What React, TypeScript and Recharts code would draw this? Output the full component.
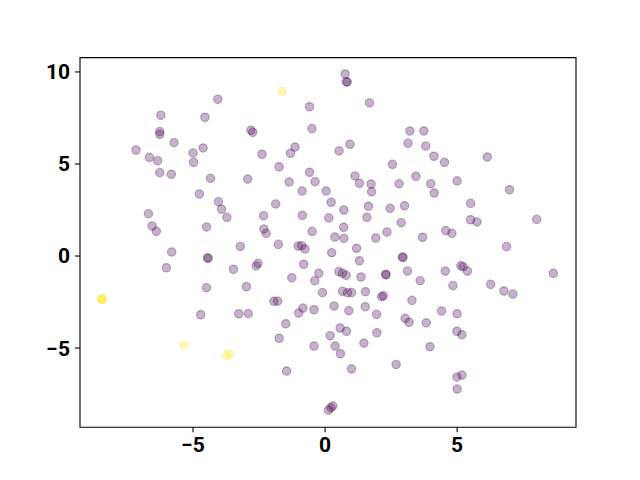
import { ReferenceArea, Scatter, ScatterChart, XAxis, YAxis } from "recharts"

// embedding points, [x, y]
const mainCluster: [number, number][] = [
  [-4.06, 8.52], [-6.22, 7.65], [-4.55, 7.54], [-6.26, 6.76], [-6.26, 6.61],
  [-2.81, 6.83], [-2.74, 6.72], [-5.72, 6.16], [-7.16, 5.76], [-6.65, 5.36],
  [-6.34, 5.18], [-5.0, 5.6], [-4.62, 5.87], [-4.98, 5.09], [-6.26, 4.53],
  [-5.82, 4.44], [-4.34, 4.22], [-2.93, 4.18], [-4.76, 3.37], [-4.04, 2.95],
  [-3.92, 2.54], [-3.72, 2.1], [-6.69, 2.3], [-6.55, 1.63], [-6.39, 1.34],
  [-4.49, 1.58], [-3.21, 0.52], [0.76, 9.89], [0.8, 9.47], [0.84, 9.45],
  [-0.59, 8.11], [1.68, 8.32], [-0.5, 6.92], [3.21, 6.79], [0.94, 6.07],
  [0.53, 5.71], [3.14, 6.13], [-1.14, 5.92], [-1.31, 5.58], [-2.39, 5.53],
  [-1.74, 4.85], [2.55, 4.98], [-0.59, 4.55], [1.13, 4.35], [1.3, 3.95],
  [1.74, 3.91], [1.76, 3.49], [2.8, 3.93], [3.44, 4.33], [-1.36, 4.02],
  [-0.38, 4.04], [-0.87, 3.53], [0.04, 3.53], [-1.87, 2.83], [0.23, 2.92],
  [0.71, 2.5], [1.64, 2.7], [2.46, 2.59], [3.01, 2.73], [-2.33, 2.19],
  [-0.86, 2.21], [0.14, 2.07], [1.58, 2.1], [2.88, 1.81], [0.7, 1.56],
  [-2.32, 1.47], [-2.23, 1.23], [-0.49, 1.34], [2.34, 1.3], [0.37, 1.03],
  [0.71, 0.96], [1.92, 0.98], [-1.77, 0.63], [-1.02, 0.54], [-0.89, 0.56],
  [-0.76, 0.38], [1.19, 0.42], [3.74, 6.79], [3.81, 5.98], [4.12, 5.42],
  [4.52, 5.09], [6.14, 5.38], [4.0, 3.93], [4.13, 3.42], [5.0, 4.08],
  [6.98, 3.6], [5.51, 2.86], [5.51, 1.97], [5.75, 1.85], [8.01, 1.99],
  [4.57, 1.38], [4.8, 1.23], [3.69, 1.02], [6.87, 0.51], [-5.81, 0.22],
  [-4.45, -0.09], [-4.43, -0.13], [-6.01, -0.64], [-3.47, -0.72], [-4.49, -1.72],
  [-2.98, -1.67], [-4.71, -3.19], [-3.27, -3.14], [-2.91, -3.13], [2.93, -0.05],
  [2.95, -0.08], [0.25, 0.18], [1.3, -0.26], [3.12, -0.82], [-2.54, -0.4],
  [-2.61, -0.54], [-0.81, -0.45], [-1.26, -1.18], [-0.24, -0.94], [-0.39, -1.34],
  [0.52, -0.85], [0.66, -0.94], [0.8, -1.05], [1.36, -1.14], [2.29, -0.99],
  [2.31, -1.03], [-0.1, -1.99], [0.66, -1.92], [0.85, -1.99], [1.0, -1.99],
  [1.53, -1.94], [2.14, -2.21], [2.21, -2.16], [3.29, -2.41], [-1.94, -2.46],
  [-1.8, -2.45], [-1.0, -3.1], [-0.84, -2.83], [-0.42, -2.92], [0.34, -2.72],
  [0.9, -2.97], [1.52, -2.76], [1.95, -3.17], [3.03, -3.39], [3.18, -3.6],
  [-1.49, -3.68], [0.57, -3.91], [0.81, -4.09], [1.96, -4.17], [-1.74, -4.47],
  [0.19, -4.33], [-0.42, -4.89], [0.38, -4.89], [1.47, -4.73], [0.58, -5.31],
  [-1.46, -6.25], [1.0, -6.13], [2.69, -5.89], [0.13, -8.37], [0.22, -8.24],
  [0.29, -8.14], [4.55, -0.82], [5.14, -0.53], [5.23, -0.58], [5.39, -0.82],
  [8.64, -0.94], [3.6, -1.34], [4.84, -1.61], [6.27, -1.54], [6.77, -1.9],
  [7.11, -2.07], [4.41, -2.99], [5.0, -3.14], [3.83, -3.63], [4.99, -4.09],
  [5.18, -4.28], [3.97, -4.93], [4.99, -6.58], [5.18, -6.47], [5.0, -7.23],
]

const outliers: [number, number][] = [
  [-8.45, -2.34], [-8.43, -2.36], [-8.46, -2.33],
  [-1.63, 8.93], [-5.34, -4.84], [-3.73, -5.4], [-3.61, -5.33],
]

const xTicks = [-5, 0, 5]
const yTicks = [-5, 0, 5, 10]
const xDomain: [number, number] = [-9.28, 9.5]
const yDomain: [number, number] = [-9.3, 10.78]

const toRows = (pts: [number, number][]) => pts.map(([x, y]) => ({ x, y }))

const fmt = (v: number) => String(v).replace("-", "\u2212")

const dot = (color: string) => (props: any) => (
  <circle
    cx={props.cx}
    cy={props.cy}
    r={4.2}
    fill={color}
    fillOpacity={0.3}
    stroke={color}
    strokeOpacity={0.3}
    strokeWidth={1.2}
  />
)

const tickStyle = { fill: "#000", fontSize: 21, fontWeight: 700, fontFamily: "Roboto" }

export default function App() {
  return (
    <div style={{ position: "absolute", left: 0, top: 0, background: "#fff" }}>
      <ScatterChart
        width={640}
        height={480}
        margin={{ top: 57.6, right: 64, bottom: 22.8, left: 40 }}
      >
        <XAxis
          type="number"
          dataKey="x"
          domain={xDomain}
          ticks={xTicks}
          allowDataOverflow
          axisLine={false}
          tickLine={{ stroke: "#000", strokeWidth: 1.1 }}
          tickSize={5}
          tickMargin={5}
          tickFormatter={fmt}
          tick={tickStyle}
          height={30}
        />
        <YAxis
          type="number"
          dataKey="y"
          domain={yDomain}
          ticks={yTicks}
          allowDataOverflow
          axisLine={false}
          tickLine={{ stroke: "#000", strokeWidth: 1.1 }}
          tickSize={5}
          tickMargin={5}
          tickFormatter={fmt}
          tick={tickStyle}
          width={40}
        />
        <ReferenceArea
          x1={xDomain[0]}
          x2={xDomain[1]}
          y1={yDomain[0]}
          y2={yDomain[1]}
          fill="none"
          stroke="#000"
          strokeWidth={1.1}
        />
        <Scatter data={toRows(mainCluster)} shape={dot("#440154")} isAnimationActive={false} />
        <Scatter data={toRows(outliers)} shape={dot("#fde725")} isAnimationActive={false} />
      </ScatterChart>
    </div>
  )
}
